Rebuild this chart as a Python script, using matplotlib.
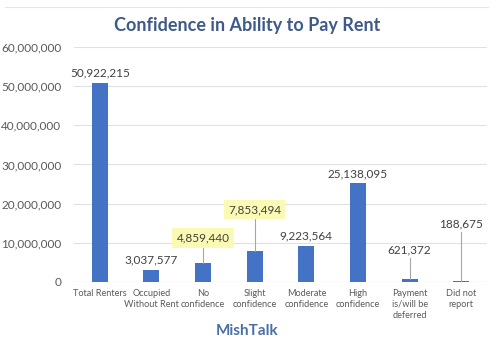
import matplotlib
matplotlib.use('Agg')
import matplotlib.pyplot as plt
from matplotlib.lines import Line2D

categories = ['Total Renters', 'Occupied\nWithout Rent', 'No\nconfidence', 'Slight\nconfidence',
              'Moderate\nconfidence', 'High\nconfidence', 'Payment\nis/will be\ndeferred', 'Did not\nreport']
values = [50922215, 3037577, 4859440, 7853494, 9223564, 25138095, 621372, 188675]
highlighted = [False, False, True, True, False, False, False, False]
yticks = [0, 10000000, 20000000, 30000000, 40000000, 50000000, 60000000]

# label heights (data units) where the value labels sit
label_pos = [53300000, 5500000, 11200000, 18400000, 11700000, 27600000, 8200000, 14800000]

plt.rcParams['font.family'] = ['Lato', 'DejaVu Sans']

fig = plt.figure(figsize=(5.0, 3.51), dpi=100)
ax = fig.add_axes([0.148, 0.197, 0.826, 0.669])

bar_color = '#4472C4'
text_gray = '#595959'
x = list(range(len(values)))
ax.bar(x, values, width=0.31, color=bar_color, zorder=3)

for xi, v, ly, hl in zip(x, values, label_pos, highlighted):
    bbox = dict(boxstyle='square,pad=0.35', fc='#FAFAB4', ec='none') if hl else None
    ax.text(xi, ly, f'{v:,}', ha='center', va='center', fontsize=8.5, color='#404040',
            bbox=bbox, zorder=5)
    gap = ly - v
    if gap > 3500000:
        top = ly - (2300000 if hl else 2100000)
        ax.plot([xi, xi], [v, top], color='#A6A6A6', lw=0.8, zorder=4)

ax.set_xlim(-0.5, len(values) - 0.5)
ax.set_ylim(0, 60000000)
ax.set_yticks(yticks)
ax.set_yticklabels([f'{t:,}' for t in yticks], fontsize=8.5, color=text_gray)
ax.set_xticks(x)
ax.set_xticklabels(categories, fontsize=6.6, color=text_gray, linespacing=1.3)
ax.tick_params(length=0, pad=5)
ax.tick_params(axis='y', pad=9)
ax.grid(axis='y', color='#E0E0E0', lw=0.8, zorder=0)
for s in ax.spines.values():
    s.set_visible(False)
ax.axhline(0, color='#D0D0D0', lw=0.8, zorder=2)

fig.text(0.494, 0.928, 'Confidence in Ability to Pay Rent', ha='center', va='center',
         fontsize=13, fontweight='bold', color='#3E5A8A')
fig.text(0.494, 0.058, 'MishTalk', ha='center', va='center',
         fontsize=11, fontweight='bold', color='#4A6FA5')
fig.add_artist(Line2D([0.01, 0.976], [0.98, 0.98], color='#E6E6E6', lw=0.8))

fig.savefig('out.png', dpi=100, facecolor='white')
